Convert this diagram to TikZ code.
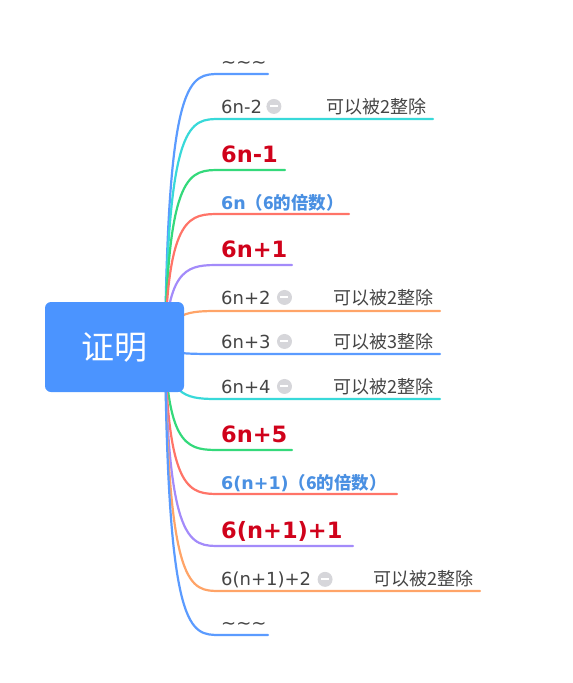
\documentclass[tikz,border=0pt]{standalone}
\usepackage{fontspec}
\setmainfont{DejaVu Sans}
\newfontfamily\cjk{Noto Sans CJK SC}
\usetikzlibrary{calc,positioning}

\definecolor{rootblue}{HTML}{4B94FF}
\definecolor{lblue}{HTML}{5B9BFF}
\definecolor{lcyan}{HTML}{38D9D9}
\definecolor{lgreen}{HTML}{34D97B}
\definecolor{lsalmon}{HTML}{FF7468}
\definecolor{lpurple}{HTML}{A38BFA}
\definecolor{lorange}{HTML}{FFA468}
\definecolor{tred}{HTML}{D0021B}
\definecolor{tblue}{HTML}{4A90E2}
\definecolor{tgrey}{HTML}{444444}
\definecolor{igrey}{HTML}{D6D6DA}

\tikzset{
  branch/.style={line width=2.2pt, line cap=round},
  graylabel/.style={inner sep=0pt, anchor=base west, text=tgrey, font=\fontsize{18}{18}\selectfont},
  notelabel/.style={inner sep=0pt, anchor=base east, text=tgrey, font=\cjk\fontsize{18}{18}\selectfont},
  primelabel/.style={inner sep=0pt, anchor=base west, text=tred, font=\bfseries\fontsize{22.5}{22.5}\selectfont},
  sixlabel/.style={inner sep=0pt, anchor=base west, text=tblue, font=\bfseries\fontsize{17.5}{17.5}\selectfont},
  icon/.style={circle, fill=igrey, minimum size=15pt, inner sep=0pt,
    path picture={\draw [white, line width=2pt] ([xshift=-4pt]path picture bounding box.center) -- ([xshift=4pt]path picture bounding box.center);}},
  rootbox/.style={fill=rootblue, rounded corners=6pt, minimum width=139pt, minimum height=90pt,
    text=white, font=\cjk\fontsize{33}{33}\selectfont}
}

\begin{document}
\begin{tikzpicture}[x=1pt, y=-1pt]
    \useasboundingbox (0,0) rectangle (573,683);
    \coordinate (hub) at (165,347);

    % branch ends
    \coordinate (b1) at (220,74);   \coordinate (e1) at (268,74);
    \coordinate (b2) at (220,119);  \coordinate (e2) at (433,119);
    \coordinate (b3) at (220,170);  \coordinate (e3) at (285,170);
    \coordinate (b4) at (220,214);  \coordinate (e4) at (349,214);
    \coordinate (b5) at (220,265);  \coordinate (e5) at (292,265);
    \coordinate (b6) at (220,311);  \coordinate (e6) at (440,311);
    \coordinate (b7) at (220,354);  \coordinate (e7) at (440,354);
    \coordinate (b8) at (220,399);  \coordinate (e8) at (440,399);
    \coordinate (b9) at (220,450);  \coordinate (e9) at (292,450);
    \coordinate (b10) at (220,494); \coordinate (e10) at (397,494);
    \coordinate (b11) at (220,546); \coordinate (e11) at (353,546);
    \coordinate (b12) at (220,591); \coordinate (e12) at (480,591);
    \coordinate (b13) at (220,635); \coordinate (e13) at (268,635);

    \draw [branch, lblue] (hub) .. controls ($(hub |- b1)+(3,0)$) and ($(b1)+(-30,0)$) .. (b1) -- (e1);
    \draw [branch, lcyan] (hub) .. controls ($(hub |- b2)+(3,0)$) and ($(b2)+(-30,0)$) .. (b2) -- (e2);
    \draw [branch, lgreen] (hub) .. controls ($(hub |- b3)+(3,0)$) and ($(b3)+(-30,0)$) .. (b3) -- (e3);
    \draw [branch, lsalmon] (hub) .. controls ($(hub |- b4)+(3,0)$) and ($(b4)+(-30,0)$) .. (b4) -- (e4);
    \draw [branch, lpurple] (hub) .. controls ($(hub |- b5)+(3,0)$) and ($(b5)+(-30,0)$) .. (b5) -- (e5);
    \draw [branch, lorange] (hub) .. controls ($(hub |- b6)+(3,0)$) and ($(b6)+(-30,0)$) .. (b6) -- (e6);
    \draw [branch, lblue] (hub) .. controls ($(hub |- b7)+(3,0)$) and ($(b7)+(-30,0)$) .. (b7) -- (e7);
    \draw [branch, lcyan] (hub) .. controls ($(hub |- b8)+(3,0)$) and ($(b8)+(-30,0)$) .. (b8) -- (e8);
    \draw [branch, lgreen] (hub) .. controls ($(hub |- b9)+(3,0)$) and ($(b9)+(-30,0)$) .. (b9) -- (e9);
    \draw [branch, lsalmon] (hub) .. controls ($(hub |- b10)+(3,0)$) and ($(b10)+(-30,0)$) .. (b10) -- (e10);
    \draw [branch, lpurple] (hub) .. controls ($(hub |- b11)+(3,0)$) and ($(b11)+(-30,0)$) .. (b11) -- (e11);
    \draw [branch, lorange] (hub) .. controls ($(hub |- b12)+(3,0)$) and ($(b12)+(-30,0)$) .. (b12) -- (e12);
    \draw [branch, lblue] (hub) .. controls ($(hub |- b13)+(3,0)$) and ($(b13)+(-30,0)$) .. (b13) -- (e13);

    \node [rootbox] at (114.5,347) (root) {证明};

    % labels
    \node [graylabel] at (221,68) (t1) {\textasciitilde\textasciitilde\textasciitilde};
    \node [graylabel] at (221,113) (t2) {6n-2};
    \node [icon, right=4pt of t2] (i2) {};
    \node [notelabel] at (427,113) (n2) {可以被2整除};
    \node [primelabel] at (221,162) (t3) {6n-1};
    \node [sixlabel] at (221,209) (t4) {6n{\cjk （6的倍数）}};
    \node [primelabel] at (221,257) (t5) {6n+1};
    \node [graylabel] at (221,304) (t6) {6n+2};
    \node [icon, right=6pt of t6] (i6) {};
    \node [notelabel] at (434,304) (n6) {可以被2整除};
    \node [graylabel] at (221,348) (t7) {6n+3};
    \node [icon, right=6pt of t7] (i7) {};
    \node [notelabel] at (434,348) (n7) {可以被3整除};
    \node [graylabel] at (221,393) (t8) {6n+4};
    \node [icon, right=6pt of t8] (i8) {};
    \node [notelabel] at (434,393) (n8) {可以被2整除};
    \node [primelabel] at (221,442) (t9) {6n+5};
    \node [sixlabel] at (221,489) (t10) {6(n+1){\cjk （6的倍数）}};
    \node [primelabel] at (221,538) (t11) {6(n+1)+1};
    \node [graylabel] at (221,585) (t12) {6(n+1)+2};
    \node [icon, right=6pt of t12] (i12) {};
    \node [notelabel] at (474,585) (n12) {可以被2整除};
    \node [graylabel] at (221,629) (t13) {\textasciitilde\textasciitilde\textasciitilde};
\end{tikzpicture}
\end{document}
